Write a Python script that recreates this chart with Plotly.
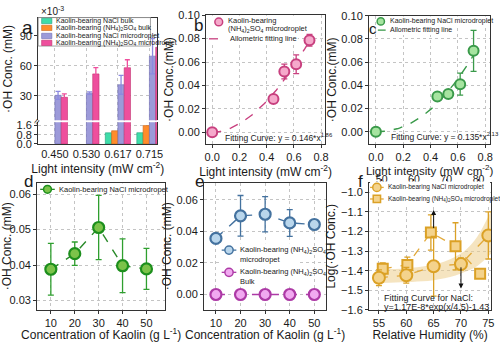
import numpy as np
import plotly.graph_objects as go

W, H = 500, 342
FONT = "Liberation Sans Narrow, Liberation Sans, Arial, sans-serif"
INK = "#1a1a1a"
GRID = "#c4c4c4"

# ---------------- data ----------------
# (a) bar chart, values in units of 1e-3 mM
light_labels = ["0.450", "0.530", "0.617", "0.715"]
nacl_bulk = [None, None, 0.97, 0.98]
ams_bulk = [None, None, 1.15, 1.60]
nacl_drop = [30.4, 32.6, 41.0, 69.7]
nacl_drop_err = [4.0, 1.2, 9.5, 17.7]
ams_drop = [28.4, 51.9, 58.1, 78.6]
ams_drop_err = [3.5, 6.3, 8.0, 5.0]

# (b), (c) concentration vs light intensity, mM
light_x = [0.0, 0.450, 0.530, 0.617, 0.715]
ams_conc = [0.0, 0.0284, 0.0519, 0.0581, 0.0786]
ams_conc_err = [0.0, 0.0012, 0.0063, 0.0080, 0.0050]
nacl_conc = [0.0, 0.0304, 0.0326, 0.0410, 0.0697]
nacl_conc_err = [0.0, 0.0015, 0.0020, 0.0095, 0.0177]
ams_fit = (0.146, 1.86)
nacl_fit = (0.135, 2.13)

# (d), (e) concentration vs kaolin loading
kaolin = [10, 20, 30, 40, 50]
d_nacl = [0.0388, 0.0432, 0.0506, 0.0398, 0.0389]
d_nacl_err = [0.0073, 0.0033, 0.0091, 0.0076, 0.0058]
e_drop = [0.0356, 0.0499, 0.0509, 0.0454, 0.0444]
e_drop_err = [0.0, 0.0129, 0.0112, 0.0085, 0.0]
e_bulk = [0.0, 0.0, 0.0, 0.0, 0.0]

# (f) log concentration vs relative humidity
rh_nacl = [55, 60, 65, 70, 75]
log_nacl = [-1.436, -1.423, -1.377, -1.366, -1.220]
log_nacl_err = [0.04, 0.04, 0.152, 0.03, 0.12]
rh_ams = [55.7, 60.2, 64.5, 69.0, 73.5]
log_ams = [-1.390, -1.370, -1.205, -1.275, -1.415]
log_ams_err = [0.03, 0.04, 0.09, 0.12, 0.02]
rh_fit = (1.17e-8, 4.5, -1.43)
band_rh = [55, 57, 59, 61, 63, 65, 67, 69, 71, 73, 75.5]
band_half = [0.035, 0.035, 0.035, 0.036, 0.038, 0.04, 0.043, 0.048, 0.056, 0.075, 0.11]
limit_arrows = [(65.0, -1.19, -1.09), (70.0, -1.375, -1.49)]
top_ticks = [50, 60, 70, 80]

# ---------------- helpers ----------------
def X(px):
    return px / W


def Y(py):
    return 1 - py / H


def axis(dom, rng, **kw):
    d = dict(domain=dom, range=rng, showline=True, linecolor="#333", linewidth=1.2,
             mirror=True, ticks="outside", ticklen=3, tickcolor="#333",
             tickfont=dict(family=FONT, size=11, color=INK),
             showgrid=True, gridcolor=GRID, griddash="dot", gridwidth=0.8,
             zeroline=False)
    d.update(kw)
    return d


def title(text, standoff=2, size=12):
    return dict(text=text, standoff=standoff, font=dict(family=FONT, size=size, color=INK))


def txt(x, y, s, size=7.5, anchor="left", **kw):
    return dict(x=X(x), y=Y(y), xref="paper", yref="paper", text=s, showarrow=False,
                xanchor=anchor, yanchor="middle",
                font=dict(family=FONT, size=size, color=kw.pop("color", INK)), **kw)


shapes = []
annotations = []


def key_circle(cx, cy, d, fill, edge, w=1.5):
    r = d / 2
    shapes.append(dict(type="circle", xref="paper", yref="paper", x0=X(cx - r), x1=X(cx + r),
                       y0=Y(cy + r), y1=Y(cy - r), fillcolor=fill, line=dict(color=edge, width=w)))


def key_square(cx, cy, d, fill, edge, w=1.5):
    r = d / 2
    shapes.append(dict(type="rect", xref="paper", yref="paper", x0=X(cx - r), x1=X(cx + r),
                       y0=Y(cy + r), y1=Y(cy - r), fillcolor=fill, line=dict(color=edge, width=w)))


def key_rect(x0, x1, cy, h, fill, edge):
    shapes.append(dict(type="rect", xref="paper", yref="paper", x0=X(x0), x1=X(x1),
                       y0=Y(cy + h / 2), y1=Y(cy - h / 2), fillcolor=fill,
                       line=dict(color=edge, width=0.6)))


def key_line(x0, x1, cy, color, w=1.3, dash="dash"):
    shapes.append(dict(type="line", xref="paper", yref="paper", x0=X(x0), x1=X(x1),
                       y0=Y(cy), y1=Y(cy), line=dict(color=color, width=w, dash=dash)))


def key_bg(x0, x1, y0, y1, border=None):
    shapes.append(dict(type="rect", xref="paper", yref="paper", x0=X(x0), x1=X(x1),
                       y0=Y(y1), y1=Y(y0), fillcolor="white",
                       line=dict(color=border or "rgba(0,0,0,0)", width=0.8 if border else 0)))


# pixel boxes of every plot area: (left, right, top, bottom)
PANELS = {
    "a": (33, 155, 12, 118.5),
    "b": (205, 327, 9.5, 143),
    "c": (372, 496, 10, 143),
    "d": (32, 163, 183, 315),
    "e": (203, 328, 183, 315),
    "f": (372, 497, 183, 315),
}

fig = go.Figure()

# ---------------- (a) broken-axis bar chart ----------------
GREEN_B, ORANGE_B, PURPLE_B, PINK_B = "#3fdca9", "#ff8c2b", "#9c9ad9", "#ee4f9d"
bar_series = [
    (nacl_bulk, None, GREEN_B, "#22a07a", "#3fdca9"),
    (ams_bulk, None, ORANGE_B, "#c9661a", "#ff8c2b"),
    (nacl_drop, nacl_drop_err, PURPLE_B, "#6d6bb5", "#8c8ae0"),
    (ams_drop, ams_drop_err, PINK_B, "#c2306f", "#ee4f9d"),
]
for xa, ya in (("x", "y"), ("x2", "y2")):
    for vals, err, fill, edge, ecol in bar_series:
        eb = dict(type="data", array=err, color=ecol, thickness=1.3, width=2.5) if err else None
        fig.add_trace(go.Bar(x=light_labels, y=vals, xaxis=xa, yaxis=ya, marker=dict(
            color=fill, line=dict(color=edge, width=0.6)), error_y=eb, showlegend=False))

# ---------------- (b), (c) light intensity ----------------
xx = np.linspace(0, max(light_x), 80)
PINK_E, PINK_F = "#c8407f", "#f5a9cb"
GREEN_E, GREEN_F = "#3a9a4a", "#a6e4a0"
for (vals, err, fit, xa, ya, edge, fill) in (
        (ams_conc, ams_conc_err, ams_fit, "x3", "y3", PINK_E, PINK_F),
        (nacl_conc, nacl_conc_err, nacl_fit, "x4", "y4", GREEN_E, GREEN_F)):
    fig.add_trace(go.Scatter(x=xx, y=fit[0] * xx ** fit[1], mode="lines", xaxis=xa, yaxis=ya,
                             line=dict(color=edge, width=1.4, dash="dash"), showlegend=False))
    fig.add_trace(go.Scatter(x=light_x, y=vals, mode="markers", xaxis=xa, yaxis=ya,
                             error_y=dict(type="data", array=err, color=edge, thickness=1.3, width=3),
                             marker=dict(size=10, color=fill, line=dict(color=edge, width=2)),
                             showlegend=False))

# ---------------- (d) kaolin loading, NaCl ----------------
D_E, D_F, D_L = "#1d8f1d", "#7cc34a", "#2a8a2a"
fig.add_trace(go.Scatter(x=kaolin, y=d_nacl, mode="lines+markers", xaxis="x5", yaxis="y5",
                         line=dict(color=D_L, width=1.4, dash="dash"),
                         error_y=dict(type="data", array=d_nacl_err, color="#2f9f2f", thickness=1.3, width=3),
                         marker=dict(size=11, color=D_F, line=dict(color=D_E, width=2.2)),
                         showlegend=False))

# ---------------- (e) kaolin loading, (NH4)2SO4 ----------------
E_E, E_F = "#44729f", "#b9d6ec"
M_E, M_F = "#ad3aa6", "#f1a9f0"
fig.add_trace(go.Scatter(x=kaolin, y=e_drop, mode="lines+markers", xaxis="x6", yaxis="y6",
                         line=dict(color=E_E, width=1.4, dash="dash"),
                         error_y=dict(type="data", array=e_drop_err, color=E_E, thickness=1.3, width=3),
                         marker=dict(size=11, color=E_F, line=dict(color=E_E, width=2.2)),
                         showlegend=False))
fig.add_trace(go.Scatter(x=kaolin, y=e_bulk, mode="lines+markers", xaxis="x6", yaxis="y6",
                         line=dict(color=M_E, width=1.4, dash="dash"),
                         marker=dict(size=11, color=M_F, line=dict(color=M_E, width=2.2)),
                         showlegend=False))

# ---------------- (f) relative humidity ----------------
F_E, F_F, F_L = "#dba126", "#f4d38c", "#e2a93a"
band_rh_a = np.array(band_rh)
band_mid = rh_fit[0] * np.exp(band_rh_a / rh_fit[1]) + rh_fit[2]
band_half_a = np.array(band_half)
fig.add_trace(go.Scatter(x=band_rh, y=band_mid + band_half_a, mode="lines", xaxis="x7", yaxis="y7",
                         line=dict(width=0, color="rgba(0,0,0,0)", shape="spline"), showlegend=False))
fig.add_trace(go.Scatter(x=band_rh, y=band_mid - band_half_a, mode="lines", xaxis="x7", yaxis="y7",
                         line=dict(width=0, color="rgba(0,0,0,0)", shape="spline"), fill="tonexty",
                         fillcolor="rgba(236,205,140,0.55)", showlegend=False))
fig.add_trace(go.Scatter(x=rh_ams, y=log_ams, mode="lines+markers", xaxis="x7", yaxis="y7",
                         line=dict(color=F_L, width=1.3, dash="dash"),
                         error_y=dict(type="data", array=log_ams_err, color=F_E, thickness=1.3, width=3),
                         marker=dict(symbol="square", size=10, color=F_F, line=dict(color=F_E, width=2)),
                         showlegend=False))
fig.add_trace(go.Scatter(x=rh_nacl, y=log_nacl, mode="lines+markers", xaxis="x7", yaxis="y7",
                         line=dict(color=F_L, width=1.3, dash="dash"),
                         error_y=dict(type="data", array=log_nacl_err, color=F_E, thickness=1.3, width=3),
                         marker=dict(size=12, color=F_F, line=dict(color=F_E, width=2)),
                         showlegend=False))
# empty trace so the secondary top axis of (f) gets laid out
fig.add_trace(go.Scatter(x=top_ticks, y=[None] * len(top_ticks), mode="markers", xaxis="x8",
                         yaxis="y7", showlegend=False, hoverinfo="skip"))
for xv, y_tail, y_head in limit_arrows:
    annotations.append(dict(x=xv, y=y_head, ax=xv, ay=y_tail, xref="x7", yref="y7", axref="x7",
                            ayref="y7", showarrow=True, arrowhead=2, arrowsize=1, arrowwidth=1,
                            arrowcolor="#111", text=""))

# ---------------- axes ----------------
def xdom(p):
    return [X(PANELS[p][0]), X(PANELS[p][1])]


def ydom(p):
    return [Y(PANELS[p][3]), Y(PANELS[p][2])]


OH = "·OH Conc. (mM)"
LIGHT = "Light intensity (mW cm<sup>-2</sup>)"
KAOLIN = "Concentration of Kaolin (g L<sup>-1</sup>)"
layout_axes = dict(
    xaxis=axis(xdom("a"), [-0.53, 3.25], anchor="y", mirror=False, ticks="",
               title=title(LIGHT, 0)),
    yaxis=axis([Y(143), Y(120.5)], [0, 1.89], anchor="x", tickvals=[0, 0.8, 1.6],
               ticktext=["0.0", "0.8", "1.6"]),
    xaxis2=axis(xdom("a"), [-0.53, 3.25], anchor="y2", matches="x", side="top", mirror=False,
                ticks="", showticklabels=False),
    yaxis2=axis(ydom("a"), [5.3, 108.4], anchor="x2", tickvals=[30, 60, 90],
                title=title(OH, 4)),
    xaxis3=axis(xdom("b"), [-0.045, 0.83], anchor="y3", tickvals=[0, 0.2, 0.4, 0.6, 0.8],
                tickformat=".1f", title=title(LIGHT, 0)),
    yaxis3=axis(ydom("b"), [-0.01, 0.10], anchor="x3", tickvals=[0, 0.02, 0.04, 0.06, 0.08, 0.10],
                tickformat=".2f", title=title("·OH Conc.(mM)", 2)),
    xaxis4=axis(xdom("c"), [-0.05, 0.836], anchor="y4", tickvals=[0, 0.2, 0.4, 0.6, 0.8],
                tickformat=".1f", title=title(LIGHT, 0, 11.5)),
    yaxis4=axis(ydom("c"), [-0.0105, 0.10], anchor="x4", tickvals=[0, 0.02, 0.04, 0.06, 0.08, 0.10],
                tickformat=".2f", title=title("·OH Conc.(mM)", 2)),
    xaxis5=axis(xdom("d"), [4.3, 57.8], anchor="y5", tickvals=kaolin,
                title=title(KAOLIN, 1)),
    yaxis5=axis(ydom("d"), [0.0273, 0.0633], anchor="x5", tickvals=[0.03, 0.04, 0.05, 0.06],
                tickformat=".2f", title=title(OH, 1)),
    xaxis6=axis(xdom("e"), [5.2, 54.8], anchor="y6", tickvals=kaolin,
                title=title(KAOLIN, 1)),
    yaxis6=axis(ydom("e"), [-0.0098, 0.071], anchor="x6", tickvals=[0, 0.02, 0.04, 0.06],
                tickformat=".2f", title=title(OH, 2)),
    xaxis7=axis(xdom("f"), [53.2, 75.5], anchor="y7", tickvals=[55, 60, 65, 70, 75],
                mirror=False, title=title("Relative Humidity (%)", 1)),
    yaxis7=axis(ydom("f"), [-1.6, -0.95], anchor="x7",
                tickvals=[-1.6, -1.5, -1.4, -1.3, -1.2, -1.1, -1.0], tickformat=".1f",
                title=title("Log(·OH Conc.)", 2)),
    xaxis8=axis(xdom("f"), [46.1, 83.9], anchor="y7", overlaying="x7", side="top",
                tickvals=top_ticks, showgrid=False, mirror=False, ticklen=2,
                ticklabelstandoff=-8, tickfont=dict(family=FONT, size=10.5, color=INK)),
)

# ---------------- legends drawn as keys ----------------
LS = 7.5
# (a)
key_bg(33, 148, 12, 41.5, border="#8a8a8a")
a_keys = [
    (15.5, GREEN_B, "#22a07a", "Kaolin-bearing NaCl bulk"),
    (22.7, ORANGE_B, "#c9661a", "Kaolin-bearing (NH<sub>4</sub>)<sub>2</sub>SO<sub>4</sub> bulk"),
    (31.0, PURPLE_B, "#6d6bb5", "Kaolin-bearing NaCl microdroplet"),
    (38.2, PINK_B, "#c2306f", "Kaolin-bearing (NH<sub>4</sub>)<sub>2</sub>SO<sub>4</sub> microdroplet"),
]
for cy, fill, edge, lab in a_keys:
    key_rect(36.5, 47, cy, 5.5, fill, edge)
    annotations.append(txt(49, cy, lab, 7))

# (b)
key_bg(207, 299, 10, 39)
key_circle(218, 16.5, 8, PINK_F, PINK_E)
annotations.append(txt(225, 15.5, "Kaolin-bearing", LS))
annotations.append(txt(225, 24, "(NH<sub>4</sub>)<sub>2</sub>SO<sub>4</sub> microdroplet", LS))
key_line(208, 225, 34, PINK_E)
annotations.append(txt(227, 34, "Allometric fitting line", LS))

# (c)
key_bg(380, 495, 11, 20)
key_bg(380, 452, 20, 30)
key_circle(384, 16, 7.5, GREEN_F, GREEN_E)
annotations.append(txt(391, 16, "Kaolin-bearing NaCl microdroplet", 7))
key_line(381, 389, 25, GREEN_E)
annotations.append(txt(391, 25, "Allometric fitting line", 7))

# (d)
key_bg(33, 152, 184, 194.5)
key_line(35, 50, 190, D_L, dash="solid")
key_circle(42.5, 190, 8, D_F, D_E)
annotations.append(txt(52, 190, "Kaolin-bearing NaCl microdropet", LS))

# (e)
key_bg(219, 300, 246, 291)
key_line(221, 236, 253, E_E, dash="solid")
key_circle(228.5, 253, 8.5, E_F, E_E)
annotations.append(txt(238, 253, "Kaolin-bearing (NH<sub>4</sub>)<sub>2</sub>SO<sub>4</sub>", LS))
annotations.append(txt(238, 263, "microdropet", LS))
key_line(221, 236, 276, M_E, dash="solid")
key_circle(228.5, 276, 8.5, M_F, M_E)
annotations.append(txt(238, 276, "Kaolin-bearing (NH<sub>4</sub>)<sub>2</sub>SO<sub>4</sub>", LS))
annotations.append(txt(238, 285.5, "Bulk", LS))

# (f)
key_bg(373, 496, 182, 206)
key_line(373, 387, 188, F_L, dash="solid")
key_circle(380, 188, 8.5, F_F, F_E)
annotations.append(txt(389, 188, "Kaolin-bearing NaCl microdroplet", 6.5))
key_line(373, 387, 200, F_L, dash="solid")
key_square(380, 200, 7.5, F_F, F_E)
annotations.append(txt(389, 200, "Kaolin-bearing (NH<sub>4</sub>)<sub>2</sub>SO<sub>4</sub> microdroplet", 6.5))

# ---------------- text labels ----------------
annotations += [
    txt(34, 5, "×10<sup>-3</sup>", 10),
    txt(31.5, 120, "≈", 10, anchor="center", textangle=-60),
    txt(222, 136, "Fitting Curve: y = 0.146*x<sup>1.86</sup>", 8.5),
    txt(392, 135, "Fitting Curve: y = 0.135*x<sup>2.13</sup>", 8.5),
    txt(385, 303, "Fitting Curve for NaCl:", 9),
    txt(385, 312, "y=1.17E-8*exp(x/4.5)-1.43", 9),
    txt(22, 22, "a", 19, anchor="center"),
    txt(197, 20, "b", 17, anchor="center"),
    txt(376, 23, "c", 15, anchor="center"),
    txt(23, 182, "d", 17, anchor="center"),
    txt(198, 182, "e", 17, anchor="center"),
    txt(363, 182, "f", 17, anchor="center"),
]

fig.update_layout(
    width=W, height=H, margin=dict(l=0, r=0, t=0, b=0),
    paper_bgcolor="white", plot_bgcolor="white",
    barmode="group", bargap=0.2, bargroupgap=0.0,
    showlegend=False, shapes=shapes, annotations=annotations,
    font=dict(family=FONT, color=INK),
    **layout_axes,
)

fig.write_html("out.html")
